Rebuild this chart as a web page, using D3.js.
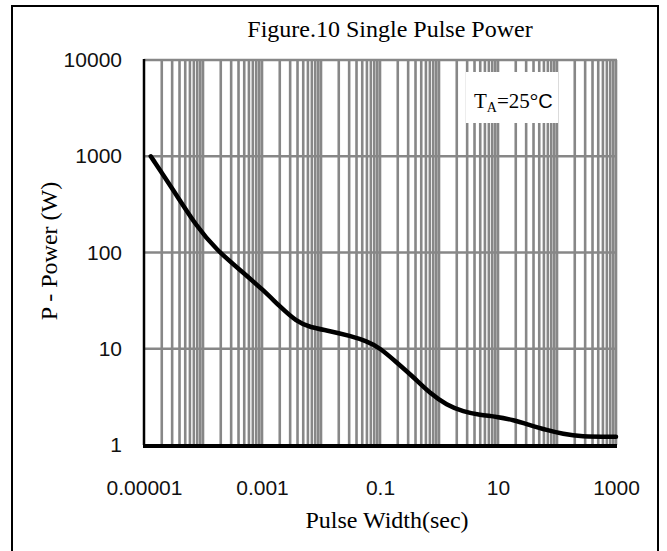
<!DOCTYPE html>
<meta charset="UTF-8">
<html>
<head>
<script src="https://d3js.org/d3.v7.min.js"></script>
<style>
  body { margin: 0; background: #fff; }
  .Grid line { stroke: #878787; stroke-width: 2.6; }
  .Serif { font-family: "Liberation Serif", "Times New Roman", serif; fill: #000; }
</style>
</head>
<body>
<svg class="Chart"></svg>
<script>
// pulse width (sec) and single pulse power (W)
var PulseWidth = [1.3e-5, 3.14e-5, 7.8e-5, 1.71e-4, 4.24e-4, 1.05e-3, 2.02e-3, 3.87e-3, 6.5e-3, 0.0142,
                  0.031, 0.0596, 0.1, 0.192, 0.366, 0.703, 1.35, 2.58, 4.95, 9.5,
                  18.2, 34.8, 66.8, 128, 245, 1000];
var Power = [1000, 446, 185, 106, 65.8, 40.8, 27.3, 19.1, 16.7, 15.3,
             13.6, 12.0, 10.2, 7.2, 5.1, 3.44, 2.6, 2.22, 2.05, 1.97,
             1.82, 1.61, 1.43, 1.30, 1.22, 1.22];

var XTickValues = [1e-5, 1e-3, 0.1, 10, 1000];
var XTickLabels = ["0.00001", "0.001", "0.1", "10", "1000"];
var YTickValues = [1, 10, 100, 1000, 10000];
var YTickLabels = ["1", "10", "100", "1000", "10000"];

var Width = 667, Height = 551;
var Plot = {"Left": 144, "Right": 616, "Top": 60, "Bottom": 445};

var Svg = d3.select(".Chart")
  .attr("width", Width)
  .attr("height", Height);

// outer frame
Svg.append("rect")
  .attr("x", 12).attr("y", 6)
  .attr("width", 646).attr("height", 560)
  .attr("fill", "none")
  .attr("stroke", "#000")
  .attr("stroke-width", 2);

var XScale = d3.scaleLog().domain([1e-5, 1e3]).range([Plot.Left, Plot.Right]);
var YScale = d3.scaleLog().domain([1, 1e4]).range([Plot.Bottom, Plot.Top]);

// vertical grid: every 1..9 x 10^k
Svg.append("g").attr("class", "Grid")
  .selectAll("line")
  .data(XScale.ticks().filter(function(d){ return d > 1e-5; }))
  .enter().append("line")
  .attr("x1", function(d){ return XScale(d); })
  .attr("x2", function(d){ return XScale(d); })
  .attr("y1", Plot.Top)
  .attr("y2", Plot.Bottom);

// horizontal grid: decades only
Svg.append("g").attr("class", "Grid")
  .selectAll("line")
  .data(YTickValues.slice(1))
  .enter().append("line")
  .attr("x1", Plot.Left)
  .attr("x2", Plot.Right + 1)
  .attr("y1", function(d){ return YScale(d); })
  .attr("y2", function(d){ return YScale(d); });

// legend box
Svg.append("rect")
  .attr("x", 466).attr("y", 72)
  .attr("width", 92).attr("height", 51)
  .attr("fill", "#fff");

var Legend = Svg.append("text")
  .attr("class", "Serif")
  .attr("x", 474).attr("y", 108)
  .style("font-size", "21px");
Legend.append("tspan").text("T");
Legend.append("tspan").attr("dy", 4).style("font-size", "14px").text("A");
Legend.append("tspan").attr("dy", -4).text("=25°");
Legend.append("tspan").style("font-family", "'Liberation Sans', Arial, sans-serif").style("font-size", "20px").text("C");

// axes lines
Svg.append("line")
  .attr("x1", Plot.Left).attr("x2", Plot.Left)
  .attr("y1", Plot.Top - 1).attr("y2", Plot.Bottom)
  .attr("stroke", "#000").attr("stroke-width", 2.5);
Svg.append("line")
  .attr("x1", Plot.Left - 1).attr("x2", Plot.Right + 1)
  .attr("y1", Plot.Bottom + 1).attr("y2", Plot.Bottom + 1)
  .attr("stroke", "#000").attr("stroke-width", 4);

// curve (smoothed like the spreadsheet line)
var Line = d3.line()
  .x(function(d, i){ return XScale(PulseWidth[i]); })
  .y(function(d){ return YScale(d); })
  .curve(d3.curveBasis);

Svg.append("path")
  .datum(Power)
  .attr("d", Line)
  .attr("fill", "none")
  .attr("stroke", "#000")
  .attr("stroke-width", 4.5)
  .attr("stroke-linecap", "round")
  .attr("stroke-linejoin", "round");

// tick labels
var XAxis = d3.axisBottom(XScale)
  .tickValues(XTickValues)
  .tickFormat(function(d, i){ return XTickLabels[i]; })
  .tickSize(0)
  .tickPadding(35);
Svg.append("g")
  .attr("class", "Tick")
  .attr("transform", "translate(0," + Plot.Bottom + ")")
  .call(XAxis)
  .call(function(g){ g.select(".domain").remove(); });

var YAxis = d3.axisLeft(YScale)
  .tickValues(YTickValues)
  .tickFormat(function(d, i){ return YTickLabels[i]; })
  .tickSize(0)
  .tickPadding(22);
Svg.append("g")
  .attr("class", "Tick")
  .attr("transform", "translate(" + Plot.Left + ",0)")
  .call(YAxis)
  .call(function(g){ g.select(".domain").remove(); });

Svg.selectAll(".Tick text")
  .attr("fill", "#111")
  .style("font-family", "'Liberation Sans', Arial, sans-serif")
  .style("font-size", "21px");

// titles
Svg.append("text")
  .attr("class", "Serif")
  .attr("x", 390).attr("y", 37)
  .attr("text-anchor", "middle")
  .style("font-size", "24px")
  .text("Figure.10 Single Pulse Power");

Svg.append("text")
  .attr("class", "Serif")
  .attr("x", 387).attr("y", 528)
  .attr("text-anchor", "middle")
  .style("font-size", "24px")
  .text("Pulse Width(sec)");

Svg.append("text")
  .attr("class", "Serif")
  .attr("transform", "translate(57,251) rotate(-90)")
  .attr("text-anchor", "middle")
  .style("font-size", "24px")
  .text("P - Power (W)");
</script>
</body>
</html>
